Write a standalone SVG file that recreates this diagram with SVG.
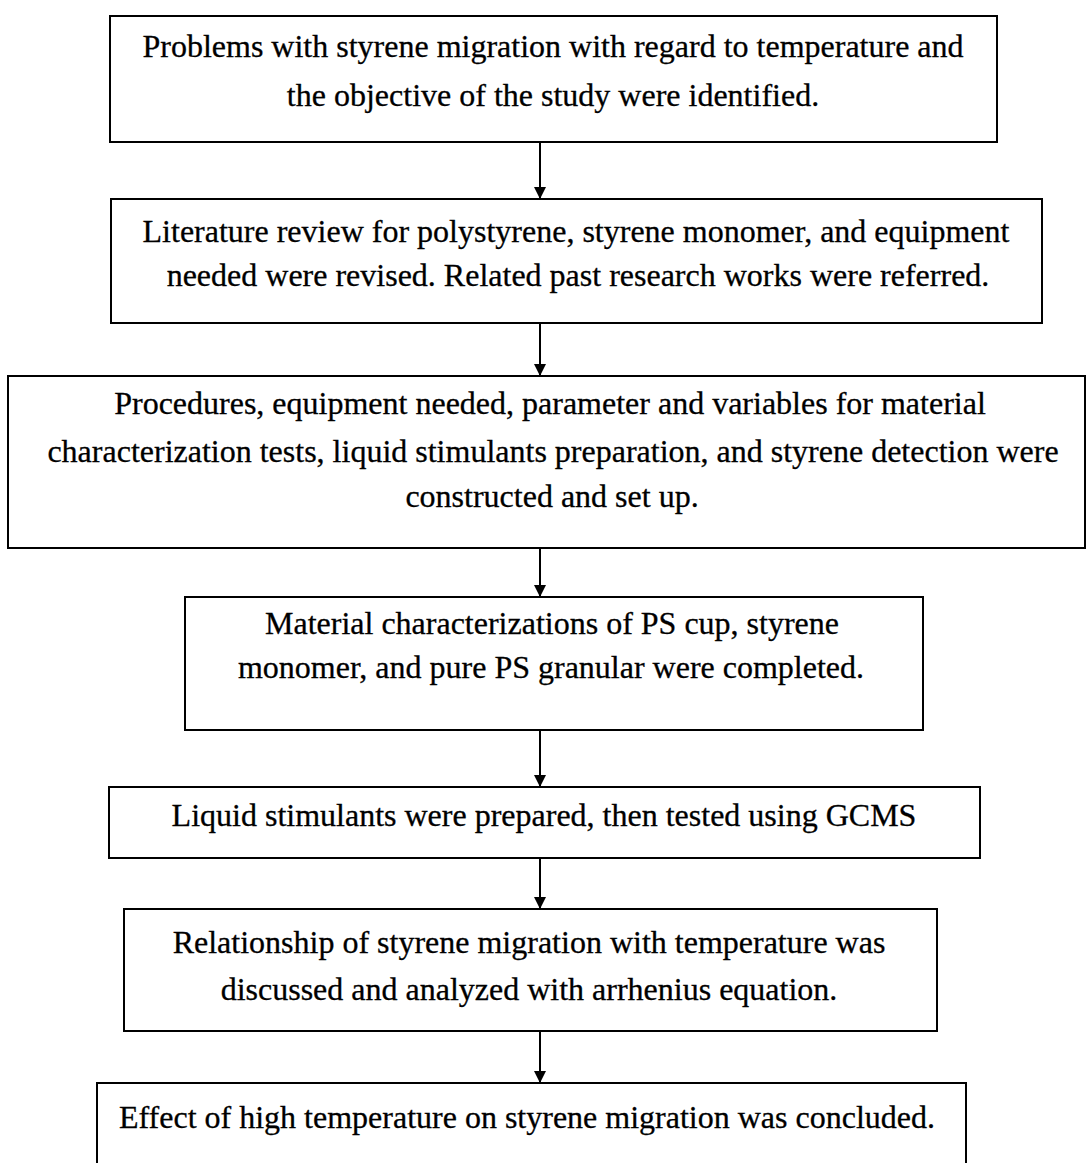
<svg xmlns="http://www.w3.org/2000/svg" width="1089" height="1163" viewBox="0 0 1089 1163">
<style>
  .box { fill: #ffffff; stroke: #000000; stroke-width: 2; }
  .t { font-family: "Liberation Serif", "Times New Roman", serif; font-size: 32px; fill: #000000; stroke: #000000; stroke-width: 0.3; text-anchor: middle; }
  .c { stroke: #000000; stroke-width: 2; fill: none; marker-end: url(#ah); }
</style>
<defs>
  <marker id="ah" viewBox="0 0 10 10" refX="10" refY="5" markerWidth="18" markerHeight="12" markerUnits="userSpaceOnUse" orient="auto">
    <path d="M0,0 L10,5 L0,10 Z" fill="#000000"/>
  </marker>
</defs>
<rect width="1089" height="1163" fill="#ffffff"/>
<g id="connectors">
  <line class="c" x1="540" y1="142" x2="540" y2="199"/>
  <line class="c" x1="540" y1="323" x2="540" y2="376"/>
  <line class="c" x1="540" y1="548" x2="540" y2="597"/>
  <line class="c" x1="540" y1="730" x2="540" y2="787"/>
  <line class="c" x1="540" y1="858" x2="540" y2="909"/>
  <line class="c" x1="540" y1="1031" x2="540" y2="1083"/>
</g>
<g id="node1">
  <rect class="box" x="110" y="16" width="887" height="126"/>
  <text class="t" x="553" y="57">Problems with styrene migration with regard to temperature and</text>
  <text class="t" x="553" y="106">the objective of the study were identified.</text>
</g>
<g id="node2">
  <rect class="box" x="111" y="199" width="931" height="124"/>
  <text class="t" x="576" y="242">Literature review for polystyrene, styrene monomer, and equipment</text>
  <text class="t" x="578" y="286">needed were revised. Related past research works were referred.</text>
</g>
<g id="node3">
  <rect class="box" x="8" y="376" width="1077" height="172"/>
  <text class="t" x="550" y="414">Procedures, equipment needed, parameter and variables for material</text>
  <text class="t" x="553" y="462">characterization tests, liquid stimulants preparation, and styrene detection were</text>
  <text class="t" x="552" y="507">constructed and set up.</text>
</g>
<g id="node4">
  <rect class="box" x="185" y="597" width="738" height="133"/>
  <text class="t" x="552" y="634">Material characterizations of PS cup, styrene</text>
  <text class="t" x="551" y="678">monomer, and pure PS granular were completed.</text>
</g>
<g id="node5">
  <rect class="box" x="109" y="787" width="871" height="71"/>
  <text class="t" x="544" y="826">Liquid stimulants were prepared, then tested using GCMS</text>
</g>
<g id="node6">
  <rect class="box" x="124" y="909" width="813" height="122"/>
  <text class="t" x="529" y="953">Relationship of styrene migration with temperature was</text>
  <text class="t" x="529" y="1000">discussed and analyzed with arrhenius equation.</text>
</g>
<g id="node7">
  <rect class="box" x="97" y="1083" width="869" height="100"/>
  <text class="t" x="527" y="1128">Effect of high temperature on styrene migration was concluded.</text>
</g>
</svg>
